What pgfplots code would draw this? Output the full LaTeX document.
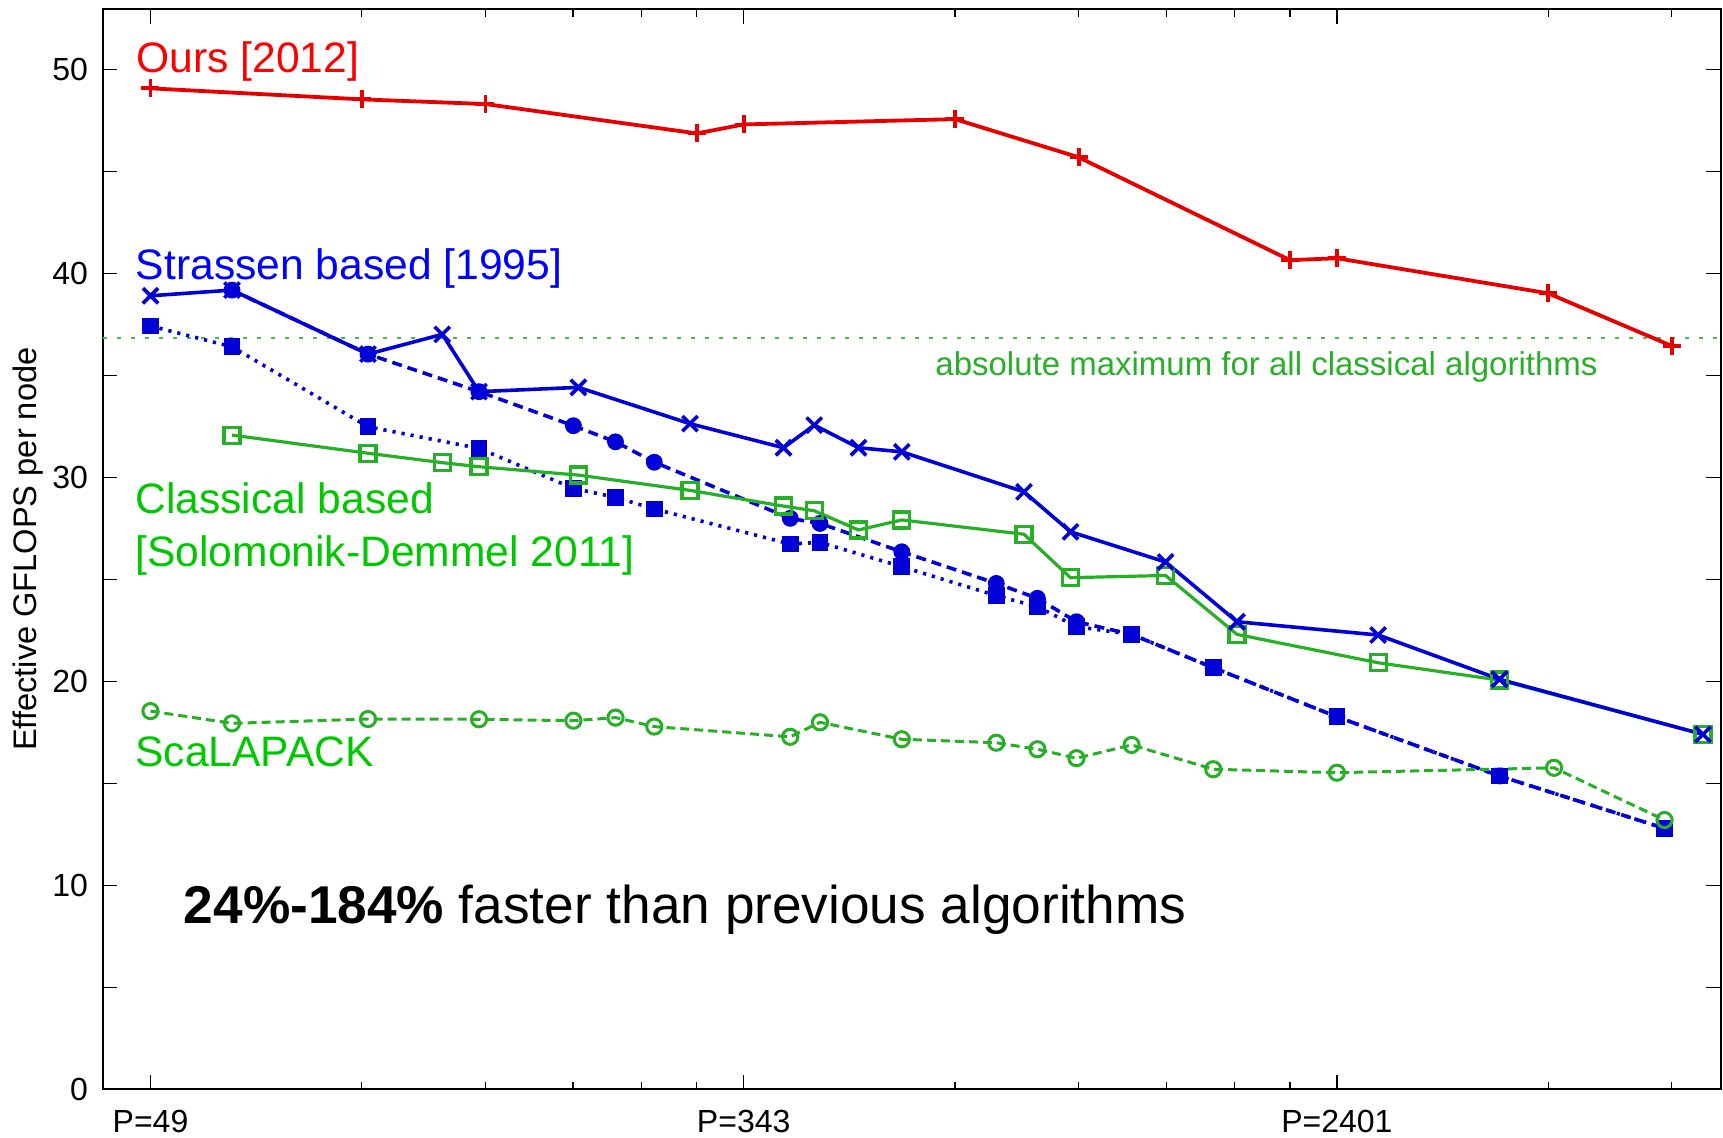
\documentclass[border=0pt]{standalone}
\usepackage{fontspec}
\setmainfont{Liberation Sans}
\usepackage{pgfplots}
\pgfplotsset{compat=1.18}
\definecolor{cred}{RGB}{232,0,0}
\definecolor{tred}{RGB}{255,0,0}
\definecolor{cblue}{RGB}{0,0,215}
\definecolor{tblue}{RGB}{0,0,255}
\definecolor{cgreen}{RGB}{40,175,40}
\definecolor{tgreen}{RGB}{0,200,0}
\begin{document}
\begin{tikzpicture}[x=1pt,y=1pt]
\useasboundingbox (0,0) rectangle (861.5,569);
\begin{axis}[
  at={(51.25pt,24.25pt)}, anchor=south west,
  scale only axis, width=809.25pt, height=540.25pt,
  xmin=-0.0809, xmax=2.6475, ymin=0, ymax=52.97,
  clip=false,
  axis line style={line width=1pt},
  xtick={0,1,2}, xticklabels={P=49,P=343,P=2401},
  minor xtick={0.3562,0.5646,0.7124,0.8271,0.9208,1.3562,1.5646,1.7124,1.8271,1.9208,2.3562,2.5646},
  ytick={0,5,...,50}, yticklabels={0,,10,,20,,30,,40,,50},
  major tick length=7.3pt, minor tick length=3.85pt,
  tick style={line width=0.6pt, black},
  tick align=inside,
  ticklabel style={font=\fontsize{16}{19}\selectfont},
  xticklabel style={yshift=-7pt},
  yticklabel style={xshift=-3.75pt},
  /pgf/number format/assume math mode=true,
  ylabel={Effective GFLOPS per node},
  every axis y label/.style={at={(axis description cs:-0.0409,0.5)}, rotate=90, anchor=base, font=\fontsize{16.3}{19}\selectfont},
]
% absolute maximum line
\addplot[color=cgreen!85, line width=1pt, dash pattern=on 2pt off 5pt] coordinates {(-0.0809,36.82) (2.6475,36.82)};
% Strassen (dashed, filled circles)
\addplot[cblue, line width=1.8pt, dash pattern=on 5pt off 3pt, mark=*, mark size=3.3pt, mark options={solid}] coordinates {
(0.1374,39.19) (0.3667,36.05) (0.5538,34.21) (0.7129,32.54) (0.7839,31.75) (0.8493,30.75)
(1.0784,28.00) (1.1286,27.75) (1.2665,26.36) (1.4258,24.81) (1.4951,24.08) (1.5610,22.93)
(1.6539,22.31) (1.7915,20.68) (2.0,18.27) (2.2741,15.37) (2.5523,12.80)};
% Strassen (dotted, filled squares)
\addplot[cblue, line width=1.8pt, dash pattern=on 1.6pt off 3pt, mark=square*, mark size=3.3pt, mark options={solid}] coordinates {
(0,37.43) (0.1374,36.41) (0.3667,32.49) (0.5538,31.43) (0.7129,29.47) (0.7839,29.03) (0.8493,28.46)
(1.0784,26.74) (1.1286,26.82) (1.2665,25.63) (1.4258,24.21) (1.4951,23.67) (1.5610,22.69)
(1.6539,22.31) (1.7915,20.68) (2.0,18.27) (2.2741,15.37) (2.5523,12.80)};
% ScaLAPACK
\addplot[cgreen, line width=1.5pt, dash pattern=on 4.5pt off 2.5pt, mark=o, mark size=3.8pt, mark options={solid}] coordinates {
(0,18.55) (0.1374,17.95) (0.3667,18.16) (0.5538,18.15) (0.7129,18.08) (0.7839,18.23) (0.8493,17.79)
(1.0784,17.29) (1.1286,18.00) (1.2665,17.17) (1.4258,17.00) (1.4951,16.68) (1.5610,16.24)
(1.6539,16.89) (1.7915,15.70) (2.0,15.53) (2.3660,15.77) (2.5523,13.21)};
% Classical based
\addplot[cgreen, line width=1.6pt, mark=square, mark size=4pt] coordinates {
(0.1374,32.08) (0.3667,31.19) (0.4919,30.73) (0.5538,30.53) (0.7213,30.12) (0.9095,29.37)
(1.0671,28.60) (1.1190,28.37) (1.1935,27.43) (1.2665,27.92) (1.4725,27.22) (1.5509,25.09)
(1.7111,25.20) (1.8316,22.31) (2.0695,20.92) (2.2741,20.07) (2.6172,17.41)};
% Strassen (solid, x)
\addplot[cblue, line width=1.8pt, mark=x, mark size=5.4pt] coordinates {
(0,38.91) (0.1374,39.19) (0.3667,36.05) (0.4919,37.02) (0.5538,34.21) (0.7213,34.42) (0.9095,32.64)
(1.0671,31.46) (1.1190,32.57) (1.1935,31.46) (1.2665,31.26) (1.4725,29.30) (1.5509,27.34)
(1.7111,25.86) (1.8316,22.93) (2.0695,22.28) (2.2741,20.11) (2.6172,17.41)};
% Ours
\addplot[cred, line width=1.9pt, mark=+, mark size=4.5pt] coordinates {
(0,49.08) (0.3562,48.54) (0.5646,48.31) (0.9208,46.87) (1,47.31) (1.3562,47.57)
(1.5646,45.70) (1.9208,40.66) (2,40.75) (2.3562,39.03) (2.5646,36.45)};
% labels
\node[anchor=base west, inner sep=0pt, text=tred, font=\fontsize{21.3}{25}\selectfont] at (axis cs:-0.0244,49.87) {Ours [2012]};
\node[anchor=base west, inner sep=0pt, text=tblue, font=\fontsize{21.3}{25}\selectfont] at (axis cs:-0.0253,39.70) {Strassen based [1995]};
\node[anchor=base west, inner sep=0pt, text=tgreen, font=\fontsize{21.3}{25}\selectfont] at (axis cs:-0.026,28.26) {Classical based};
\node[anchor=base west, inner sep=0pt, text=tgreen, font=\fontsize{21.3}{25}\selectfont] at (axis cs:-0.026,25.64) {[Solomonik-Demmel 2011]};
\node[anchor=base west, inner sep=0pt, text=tgreen, font=\fontsize{21.3}{25}\selectfont] at (axis cs:-0.026,15.81) {ScaLAPACK};
\node[anchor=base west, inner sep=0pt, font=\fontsize{26.6}{32}\selectfont] at (axis cs:0.0556,8.16) {\textbf{24\%-184\%} faster than previous algorithms};
\node[anchor=base west, inner sep=0pt, text=cgreen, font=\fontsize{16.5}{20}\selectfont] at (axis cs:1.3225,35.02) {absolute maximum for all classical algorithms};
\end{axis}
\end{tikzpicture}
\end{document}
